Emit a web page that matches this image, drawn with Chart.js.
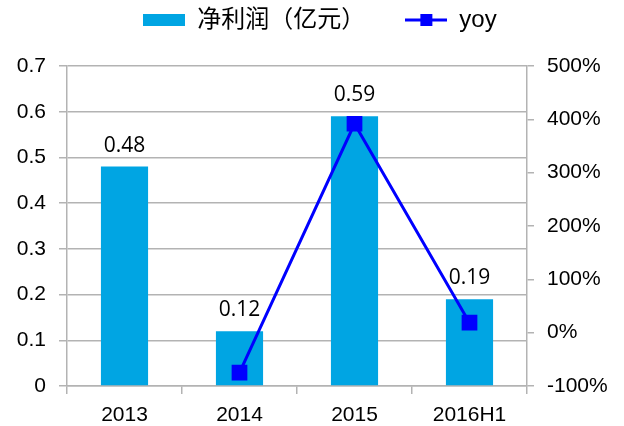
<!DOCTYPE html>
<html>
<head>
<meta charset="utf-8">
<script src="https://cdn.jsdelivr.net/npm/chart.js@4.4.1/dist/chart.umd.min.js"></script>
<style>
  html, body { margin: 0; padding: 0; background: #fff; }
  #wrap { width: 624px; height: 426px; }
</style>
</head>
<body>
<div id="wrap"><canvas id="c" width="624" height="426"></canvas></div>
<script>
"use strict";
// data
const categories = ["2013", "2014", "2015", "2016H1"];
const netProfit = [0.48, 0.12, 0.59, 0.19];      // 亿元
const yoy = [null, -75, 391.7, 18.7];             // %
const leftTicks = [0, 0.1, 0.2, 0.3, 0.4, 0.5, 0.6, 0.7];
const rightTicks = [-100, 0, 100, 200, 300, 400, 500];

const barColor = "#00a5e3";
const lineColor = "#0000ff";
const gridColor = "#b3b3b3";

// legend swatches
function swatch(kind) {
    const cv = document.createElement("canvas");
    cv.width = 42; cv.height = 14;
    const g = cv.getContext("2d");
    if (kind === "bar") {
        g.fillStyle = barColor;
        g.fillRect(0, 1, 42, 12);
    } else {
        g.strokeStyle = lineColor;
        g.lineWidth = 3;
        g.beginPath(); g.moveTo(0, 7); g.lineTo(42, 7); g.stroke();
        g.fillStyle = lineColor;
        g.fillRect(15, 1, 12, 12);
    }
    return cv;
}

// extra room under the legend
const legendGap = {
    id: "legendGap",
    afterInit(chart) {
        const lg = chart.legend;
        const fit = lg.fit;
        lg.fit = function () { fit.call(this); this.height += 24; };
    }
};

const barLabels = {
    id: "barLabels",
    afterDatasetDraw(chart, args) {
        if (args.index !== 0) return;
        const ctx = chart.ctx;
        ctx.save();
        ctx.font = "21px 'Open Sans', 'Liberation Sans', sans-serif";
        ctx.fillStyle = "#000";
        ctx.textAlign = "center";
        ctx.textBaseline = "alphabetic";
        args.meta.data.forEach((el, i) => {
            ctx.fillText(netProfit[i].toFixed(2), el.x, el.y - 15);
        });
        ctx.restore();
    }
};

new Chart(document.getElementById("c"), {
    data: {
        labels: categories,
        datasets: [
            {
                type: "bar",
                label: "净利润（亿元）",
                data: netProfit,
                backgroundColor: barColor,
                barPercentage: 0.41,
                categoryPercentage: 1,
                yAxisID: "y",
                order: 1
            },
            {
                type: "line",
                label: "yoy",
                data: yoy,
                borderColor: lineColor,
                backgroundColor: lineColor,
                borderWidth: 3,
                pointStyle: "rect",
                pointRadius: 9,
                pointHoverRadius: 9,
                tension: 0,
                yAxisID: "y1",
                order: 0
            }
        ]
    },
    options: {
        responsive: false,
        animation: false,
        layout: { padding: { top: -32, left: 16, right: 0, bottom: 0 } },
        plugins: {
            tooltip: { enabled: false },
            legend: {
                position: "top",
                labels: {
                    font: { family: "'Liberation Sans', 'Noto Sans CJK SC', sans-serif", size: 24 },
                    color: "#000",
                    usePointStyle: true,
                    pointStyleWidth: 42,
                    padding: 40,
                    generateLabels: chart => chart.data.datasets.map((ds, i) => ({
                        text: ds.label,
                        pointStyle: swatch(i === 0 ? "bar" : "line"),
                        fillStyle: "transparent",
                        strokeStyle: "transparent",
                        lineWidth: 0,
                        fontColor: "#000",
                        datasetIndex: i
                    }))
                }
            }
        },
        scales: {
            x: {
                offset: true,
                grid: { display: true, offset: true, drawOnChartArea: false, tickLength: 8, color: gridColor, lineWidth: 1.5 },
                border: { display: true, color: gridColor, width: 1.5 },
                ticks: { font: { family: "'Liberation Sans', Arial, sans-serif", size: 21 }, color: "#000", padding: 9 },
                afterFit: s => { s.height = 40; }
            },
            y: {
                position: "left",
                min: 0,
                max: 0.7,
                afterBuildTicks: s => { s.ticks = leftTicks.map(v => ({ value: v })); },
                ticks: {
                    font: { family: "'Liberation Sans', Arial, sans-serif", size: 21 },
                    color: "#000",
                    padding: 13,
                    callback: v => (v === 0 ? "0" : v.toFixed(1))
                },
                grid: { color: gridColor, lineWidth: 1.5, tickLength: 8 },
                border: { display: true, color: gridColor, width: 1.5 },
                afterFit: s => { s.width = 51; }
            },
            y1: {
                position: "right",
                min: -100,
                max: 500,
                afterBuildTicks: s => { s.ticks = rightTicks.map(v => ({ value: v })); },
                ticks: {
                    font: { family: "'Liberation Sans', Arial, sans-serif", size: 21 },
                    color: "#000",
                    padding: 13,
                    callback: v => v + "%"
                },
                grid: { drawOnChartArea: false, color: gridColor, lineWidth: 1.5, tickLength: 7 },
                border: { display: true, color: gridColor, width: 1.5 },
                afterFit: s => { s.width = 97; }
            }
        }
    },
    plugins: [legendGap, barLabels]
});
</script>
</body>
</html>
